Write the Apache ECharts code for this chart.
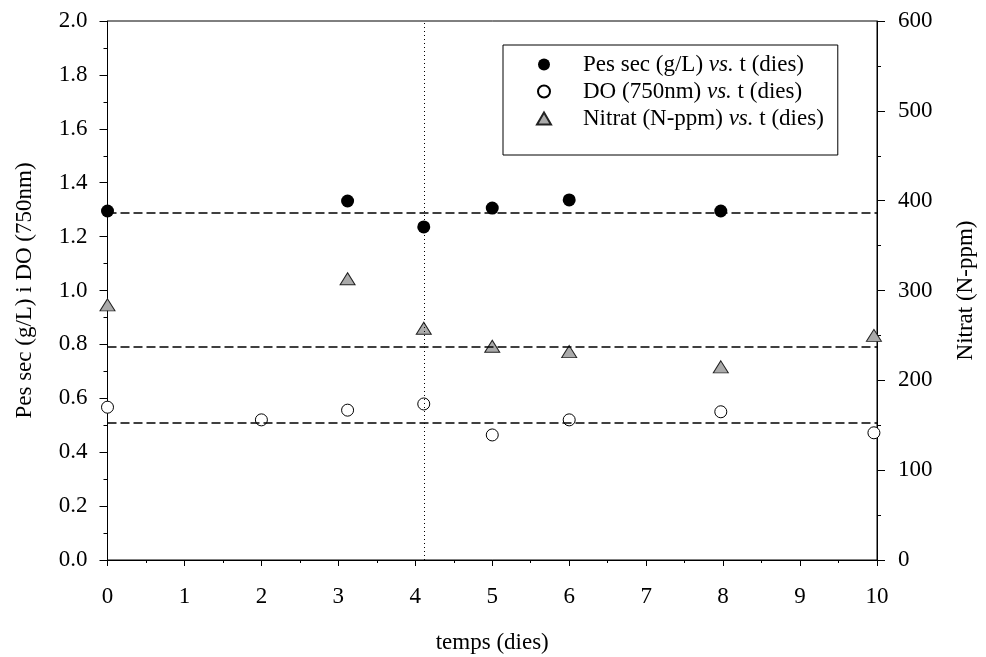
<!DOCTYPE html>
<html>
<head>
<meta charset="utf-8">
<script src="https://cdn.jsdelivr.net/npm/echarts@6/dist/echarts.min.js"></script>
<style>
  html, body { margin: 0; padding: 0; background: #fff; }
  #chart { width: 986px; height: 657px; }
</style>
</head>
<body>
<div id="chart"></div>
<script>
// dies de mostreig
const days = [0, 2, 3.12, 4.11, 5, 6, 7.97, 9.96];
// pes sec (g/L), null on no hi ha mesura
const pesSec = [1.295, null, 1.332, 1.236, 1.306, 1.336, 1.295, null];
// DO (750nm)
const dens = [0.567, 0.520, 0.556, 0.579, 0.464, 0.520, 0.550, 0.472];
// nitrat (N-ppm), eix dret
const nitrat = [284, null, 313, 258, 238, 232, 215, 250];

// línies de mitjana i línia vertical
const meanPes = 1.289;
const meanNitrat = 237.4;
const meanDens = 0.507;
const markDay = 4.11;

const xTicks = [0, 1, 2, 3, 4, 5, 6, 7, 8, 9, 10];

const font = "'Liberation Serif', 'Times New Roman', serif";

function pairs(xs, ys) {
  return xs.map((x, i) => (ys[i] == null ? null : [x, ys[i]])).filter(Boolean);
}

const chart = echarts.init(document.getElementById("chart"));

const dashed = { color: "#000", width: 1.5, type: [9, 4] };

chart.setOption({
  animation: false,
  backgroundColor: "#fff",
  textStyle: { fontFamily: font, color: "#000" },
  grid: {
    left: 107.5, right: 109, top: 21, bottom: 97,
    outerBoundsMode: "none",
    show: true, borderColor: "#000", borderWidth: 1, backgroundColor: "transparent"
  },
  legend: {
    orient: "vertical",
    left: 503, top: 45,
    padding: [8, 14, 25, 33],
    itemGap: 4,
    itemWidth: 14, itemHeight: 12,
    borderColor: "#000", borderWidth: 1,
    selectedMode: false,
    textStyle: {
      fontFamily: font, fontSize: 23, color: "#000", lineHeight: 23,
      padding: [0, 0, 0, 27],
      rich: { i: { fontFamily: font, fontSize: 23, fontStyle: "italic", color: "#000" } }
    },
    formatter: (name) => name + " {i|vs.} t (dies)",
    data: [
      { name: "Pes sec (g/L)", icon: "circle" },
      { name: "DO (750nm)", icon: "circle" },
      { name: "Nitrat (N-ppm)", icon: "triangle" }
    ]
  },
  xAxis: {
    type: "value", min: 0, max: 10, interval: 1,
    name: "temps (dies)", nameLocation: "middle", nameGap: 71,
    nameTextStyle: { fontFamily: font, fontSize: 23, color: "#000" },
    axisLine: { lineStyle: { color: "#000", width: 1 } },
    axisTick: { length: 6, inside: false, lineStyle: { color: "#000" } },
    minorTick: { show: true, splitNumber: 2, length: 3, lineStyle: { color: "#000" } },
    splitLine: { show: false },
    axisLabel: {
      fontFamily: font, fontSize: 23, color: "#000", margin: 25,
      formatter: (v) => (xTicks.includes(v) ? String(v) : "")
    }
  },
  yAxis: [
    {
      type: "value", min: 0, max: 2, interval: 0.2, position: "left",
      name: "Pes sec (g/L) i DO (750nm)", nameLocation: "middle", nameGap: 71, nameRotate: 90,
      nameTextStyle: { fontFamily: font, fontSize: 23, color: "#000" },
      axisLine: { show: true, lineStyle: { color: "#000", width: 1 } },
      axisTick: { show: true, length: 8, lineStyle: { color: "#000" } },
      minorTick: { show: true, splitNumber: 2, length: 4, lineStyle: { color: "#000" } },
      splitLine: { show: false },
      axisLabel: {
        fontFamily: font, fontSize: 23, color: "#000", margin: 20,
        formatter: (v) => v.toFixed(1)
      }
    },
    {
      type: "value", min: 0, max: 600, interval: 100, position: "right",
      name: "Nitrat (N-ppm)", nameLocation: "middle", nameGap: 77, nameRotate: 90,
      nameTextStyle: { fontFamily: font, fontSize: 23, color: "#000" },
      axisLine: { show: true, lineStyle: { color: "#000", width: 1 } },
      axisTick: { show: true, length: 8, lineStyle: { color: "#000" } },
      minorTick: { show: true, splitNumber: 2, length: 4, lineStyle: { color: "#000" } },
      splitLine: { show: false },
      axisLabel: { fontFamily: font, fontSize: 23, color: "#000", margin: 21 }
    }
  ],
  series: [
    {
      name: "Pes sec (g/L)", type: "scatter", yAxisIndex: 0, z: 4,
      symbol: "circle", symbolSize: 13,
      itemStyle: { color: "#000", borderColor: "#000", borderWidth: 0, opacity: 1 },
      data: pairs(days, pesSec),
      markLine: {
        silent: true, symbol: "none", label: { show: false },
        lineStyle: dashed,
        data: [{ yAxis: meanPes }, { yAxis: meanDens }]
      }
    },
    {
      name: "DO (750nm)", type: "scatter", yAxisIndex: 0, z: 4,
      symbol: "circle", symbolSize: 12,
      itemStyle: { color: "#fff", borderColor: "#000", borderWidth: 1, opacity: 1 },
      data: pairs(days, dens),
      markLine: {
        silent: true, symbol: "none", label: { show: false },
        lineStyle: { color: "#000", width: 1, type: [1, 3] },
        data: [{ xAxis: markDay }]
      }
    },
    {
      name: "Nitrat (N-ppm)", type: "scatter", yAxisIndex: 1, z: 4,
      symbol: "triangle", symbolSize: [15, 12],
      itemStyle: { color: "#aaaaaa", borderColor: "#222", borderWidth: 1, opacity: 1 },
      data: pairs(days, nitrat),
      markLine: {
        silent: true, symbol: "none", label: { show: false },
        lineStyle: dashed,
        data: [{ yAxis: meanNitrat }]
      }
    }
  ]
});
</script>
</body>
</html>
